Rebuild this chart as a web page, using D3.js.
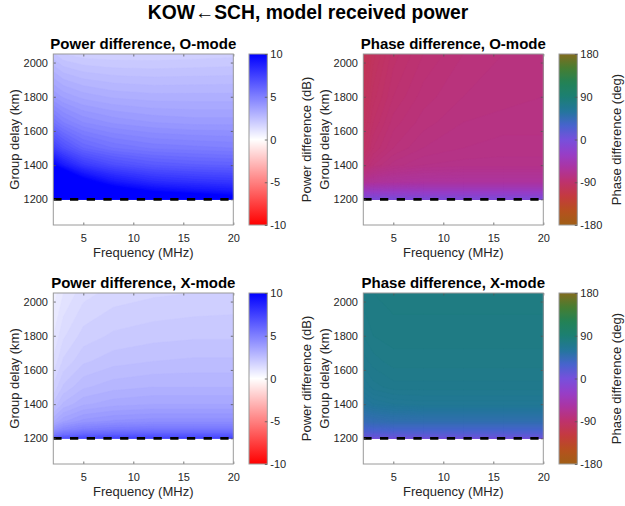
<!DOCTYPE html>
<html><head><meta charset="utf-8">
<script src="https://cdn.jsdelivr.net/npm/d3@7"></script>
<style>body{margin:0;background:#fff}svg{display:block}</style>
</head><body><svg id="c" width="625" height="506"></svg>
<script>
// ---------- data ----------
const freqs  = [2, 3, 5, 8, 12, 16, 20];                       // MHz (grid columns)
const delays = [1200, 1220, 1250, 1300, 1400, 1500, 1650, 1800, 2050]; // km (grid rows)

// Power difference, O-mode (dB) rows = delays, cols = freqs
const powerO = [
  [16.0, 16.0, 15.0, 14.0, 13.0, 12.0, 11.0],
  [16.0, 15.5, 14.0, 12.5, 11.0, 10.4,  9.9],
  [15.5, 14.5, 12.5, 10.6,  9.7,  9.3,  9.0],
  [13.5, 12.5, 10.5,  9.2,  8.4,  8.1,  7.9],
  [10.0,  9.0,  7.8,  7.0,  6.5,  6.3,  6.2],
  [ 7.6,  6.9,  6.0,  5.5,  5.2,  5.1,  5.0],
  [ 5.5,  5.0,  4.5,  4.2,  4.0,  3.9,  3.9],
  [ 4.0,  3.7,  3.4,  3.2,  3.1,  3.1,  3.1],
  [ 2.3,  2.0, 1.85,  1.8,  1.8, 1.85,  1.9]
];
// Power difference, X-mode (dB)
const powerX = [
  [6.3, 6.8, 7.1, 7.3, 7.4, 7.4, 7.4],
  [5.2, 5.7, 6.1, 6.3, 6.4, 6.4, 6.4],
  [4.2, 4.7, 5.1, 5.3, 5.4, 5.4, 5.4],
  [3.2, 3.7, 4.1, 4.3, 4.4, 4.4, 4.4],
  [2.3, 2.8, 3.2, 3.4, 3.5, 3.5, 3.5],
  [1.8, 2.3, 2.7, 2.9, 3.0, 3.0, 3.0],
  [1.3, 1.8, 2.2, 2.4, 2.5, 2.55, 2.55],
  [1.0, 1.45, 1.85, 2.05, 2.15, 2.2, 2.2],
  [0.6, 1.0, 1.4, 1.6, 1.7, 1.75, 1.8]
];
// Phase difference, O-mode (deg)
const phaseO = [
  [  -4,  -4,  -5,  -6,  -7,  -7,  -7],
  [ -18, -18, -19, -20, -20, -20, -20],
  [ -38, -37, -36, -36, -36, -36, -36],
  [ -68, -64, -62, -61, -61, -61, -61],
  [ -88, -82, -77, -74, -73, -73, -73],
  [ -95, -88, -82, -78, -76, -75, -75],
  [ -99, -92, -85, -81, -78, -77, -77],
  [-102, -95, -88, -83, -80, -79, -78],
  [-106, -99, -91, -86, -82, -80, -79]
];
// Phase difference, X-mode (deg)
const phaseX = [
  [ 4,  4,  4,  4,  4,  4,  4],
  [15, 15, 16, 16, 16, 16, 16],
  [28, 29, 30, 30, 30, 30, 30],
  [44, 46, 48, 48, 48, 48, 48],
  [59, 62, 64, 65, 65, 65, 65],
  [66, 69, 71, 71, 71, 71, 71],
  [71, 73, 75, 75, 75, 75, 75],
  [74, 76, 77, 77, 77, 77, 77],
  [77, 78, 79, 79, 79, 79, 79]
];

const xTicks = [5, 10, 15, 20];
const yTicks = [1200, 1400, 1600, 1800, 2000];
const powerTicks = [-10, -5, 0, 5, 10];
const phaseTicks = [-180, -90, 0, 90, 180];
const cutoffDelay = 1200;

const mainTitle = "KOW\u2190SCH, model received power";
const titles = ["Power difference, O-mode", "Phase difference, O-mode",
                "Power difference, X-mode", "Phase difference, X-mode"];

// ---------- colour maps ----------
const powerColor = d3.scaleLinear().domain([-10, 0, 10])
  .range(["#ff0000", "#ffffff", "#0000ff"]).clamp(true);
const phaseStops = [-180, -150, -120, -90, -60, -30, 0, 30, 60, 90, 120, 150, 180];
const phaseCols = ["rgb(160,95,22)", "rgb(182,80,30)", "rgb(196,58,62)", "rgb(190,50,108)",
  "rgb(172,52,160)", "rgb(150,62,200)", "rgb(118,80,220)", "rgb(70,100,205)",
  "rgb(35,118,155)", "rgb(28,127,115)", "rgb(35,130,85)", "rgb(70,125,50)", "rgb(130,108,30)"];
const phaseColor = d3.scaleLinear().domain(phaseStops).range(phaseCols).clamp(true);

// ---------- layout ----------
const FONT = '"Liberation Sans", Arial, Helvetica, sans-serif';
const W = 180, H = 171;
const svg = d3.select("#c");
const defs = svg.append("defs");
const fmt = d => String(d);

svg.append("text").attr("x", 308).attr("y", 18.5).attr("text-anchor", "middle")
  .attr("font-family", FONT).attr("font-size", 19.3).attr("font-weight", "bold")
  .attr("fill", "#000").text(mainTitle);

const panels = [
  {grid: powerO, kind: "power", x0: 53.3, y0: 54},
  {grid: phaseO, kind: "phase", x0: 363.3, y0: 54},
  {grid: powerX, kind: "power", x0: 53.3, y0: 293},
  {grid: phaseX, kind: "phase", x0: 363.3, y0: 293}
];

panels.forEach((p, k) => {
  const xS = d3.scaleLinear().domain([2, 20]).range([p.x0, p.x0 + W]);
  const yS = d3.scaleLinear().domain([1050, 2050]).range([p.y0 + H, p.y0]);
  const isPow = p.kind === "power";
  const cmap = isPow ? powerColor : phaseColor;
  const step = isPow ? 0.25 : 2;
  const thr = isPow ? d3.range(0, 10.001, step) : d3.range(-180, 180, step);

  const g = svg.append("g");
  g.append("rect").attr("x", p.x0).attr("y", p.y0).attr("width", W).attr("height", H).attr("fill", "#fff");

  const cid = "clip" + k;
  defs.append("clipPath").attr("id", cid).append("rect")
    .attr("x", xS(2)).attr("y", yS(2050)).attr("width", xS(20) - xS(2)).attr("height", yS(cutoffDelay) - yS(2050));

  const n = freqs.length, m = delays.length;
  const values = [];
  for (let j = 0; j < m; j++) for (let i = 0; i < n; i++) values.push(p.grid[j][i]);
  const fI = d3.scaleLinear().domain(freqs.map((_, i) => i + 0.5)).range(freqs);
  const dI = d3.scaleLinear().domain(delays.map((_, j) => j + 0.5)).range(delays);
  const proj = d3.geoTransform({point(x, y) { this.stream.point(xS(fI(x)), yS(dI(y))); }});
  const path = d3.geoPath(proj);
  const cs = d3.contours().size([n, m]).thresholds(thr)(values);
  const colOf = v => cmap(Math.min(isPow ? 10 : 180, v + step / 2));
  g.append("g").attr("clip-path", `url(#${cid})`)
    .selectAll("path").data(cs).join("path")
    .attr("d", path).attr("fill", d => colOf(d.value))
    .attr("stroke", d => colOf(d.value)).attr("stroke-width", 0.4);

  g.append("line").attr("x1", xS(2)).attr("x2", xS(20))
    .attr("y1", yS(cutoffDelay)).attr("y2", yS(cutoffDelay))
    .attr("stroke", "#000").attr("stroke-width", 2.7).attr("stroke-dasharray", "8.3,8.4");

  const styleAxis = sel => {
    sel.select(".domain").remove();
    sel.selectAll("line").attr("stroke", "#555").attr("stroke-width", 0.8);
    sel.selectAll("text").attr("font-family", FONT).attr("font-size", 11).attr("fill", "#262626");
  };
  g.append("g").attr("transform", `translate(0,${p.y0 + H})`)
    .call(d3.axisBottom(xS).tickValues(xTicks).tickFormat(fmt).tickSize(-2.5).tickPadding(9.2)).call(styleAxis);
  g.append("g").attr("transform", `translate(0,${p.y0})`)
    .call(d3.axisTop(xS).tickValues(xTicks).tickSize(-2.5).tickFormat("")).call(styleAxis);
  g.append("g").attr("transform", `translate(${p.x0},0)`)
    .call(d3.axisLeft(yS).tickValues(yTicks).tickFormat(fmt).tickSize(-2.5).tickPadding(5.3)).call(styleAxis);
  g.append("g").attr("transform", `translate(${p.x0 + W},0)`)
    .call(d3.axisRight(yS).tickValues(yTicks).tickSize(-2.5).tickFormat("")).call(styleAxis);
  g.append("rect").attr("x", p.x0).attr("y", p.y0).attr("width", W).attr("height", H)
    .attr("fill", "none").attr("stroke", "#9a9a9a").attr("stroke-width", 1);

  g.append("text").attr("x", p.x0 + W / 2).attr("y", p.y0 - 5.5).attr("text-anchor", "middle")
    .attr("font-family", FONT).attr("font-size", 15).attr("font-weight", "bold").attr("fill", "#000")
    .text(titles[k]);
  g.append("text").attr("x", p.x0 + W / 2).attr("y", p.y0 + H + 31.8).attr("text-anchor", "middle")
    .attr("font-family", FONT).attr("font-size", 13).attr("fill", "#262626").text("Frequency (MHz)");
  g.append("text").attr("transform", `translate(${p.x0 - 34},${p.y0 + H / 2}) rotate(-90)`)
    .attr("text-anchor", "middle").attr("font-family", FONT).attr("font-size", 13)
    .attr("fill", "#262626").text("Group delay (km)");

  const bx = p.x0 + W + 15.7, bw = 18.3;
  const dom = isPow ? [-10, 10] : [-180, 180];
  const cS = d3.scaleLinear().domain(dom).range([p.y0 + H, p.y0]);
  const gid = "grad" + k;
  const grad = defs.append("linearGradient").attr("id", gid)
    .attr("x1", 0).attr("y1", 1).attr("x2", 0).attr("y2", 0);
  d3.range(0, 1.0001, 1 / 64).forEach(t => {
    grad.append("stop").attr("offset", t).attr("stop-color", cmap(dom[0] + t * (dom[1] - dom[0])));
  });
  g.append("rect").attr("x", bx).attr("y", p.y0).attr("width", bw).attr("height", H)
    .attr("fill", `url(#${gid})`).attr("stroke", "#9a9a9a").attr("stroke-width", 1);
  g.append("g").attr("transform", `translate(${bx + bw},0)`)
    .call(d3.axisRight(cS).tickValues(isPow ? powerTicks : phaseTicks).tickFormat(fmt).tickSize(-2.5).tickPadding(3))
    .call(styleAxis);
  g.append("text").attr("transform", `translate(${bx + bw + 43.5},${p.y0 + H / 2}) rotate(-90)`)
    .attr("text-anchor", "middle").attr("font-family", FONT).attr("font-size", 13)
    .attr("fill", "#262626").text(isPow ? "Power difference (dB)" : "Phase difference (deg)");
});
</script>
</body></html>
